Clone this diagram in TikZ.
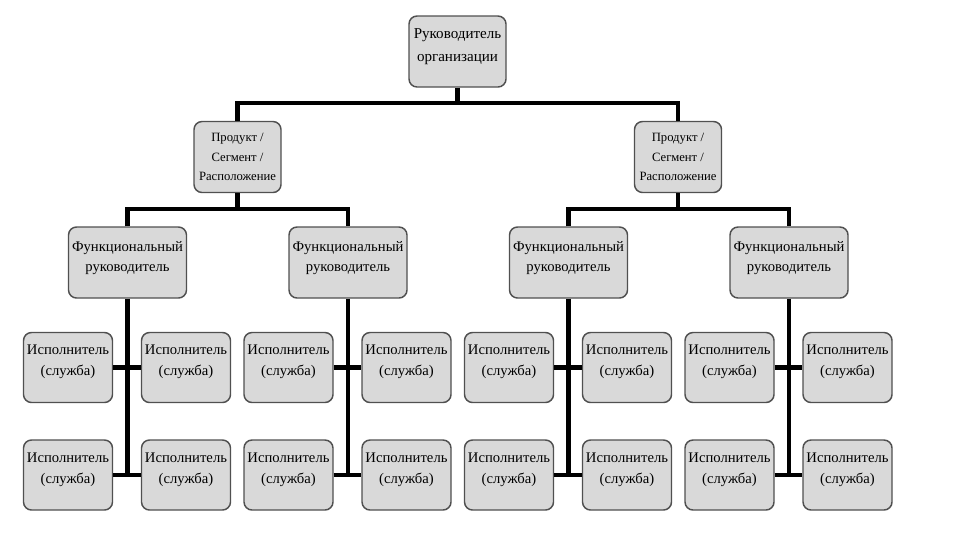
\documentclass[tikz,border=0pt]{standalone}
\usepackage{fontspec}
\setmainfont{Liberation Serif}
\definecolor{boxfill}{HTML}{D9D9D9}
\definecolor{boxline}{HTML}{505050}
\newcommand{\bxt}[4]{\parbox[c][#2][t]{#1}{\vspace*{#3}\centering\strut #4}}
\begin{document}
\begin{tikzpicture}[x=0.75pt,y=-0.75pt,
  box/.style={draw=boxline,line width=1.1pt,fill=boxfill,rounded corners=6pt,inner sep=0pt},
  conn/.style={line width=3.6pt,draw=black}]
\useasboundingbox[fill=white] (0,0) rectangle (960,540);
% top
\node[box] (top) at (457.5,51.5) {\fontsize{11.3}{17}\selectfont\bxt{72.75pt}{53.25pt}{5pt}{Руководитель\\организации}};
% products
\node[box] (p1) at (237.5,157) {\fontsize{9.5}{14.5}\selectfont\bxt{65.25pt}{53.25pt}{5pt}{Продукт /\\Сегмент /\\Расположение}};
\node[box] (p2) at (678,157) {\fontsize{9.5}{14.5}\selectfont\bxt{65.25pt}{53.25pt}{5pt}{Продукт /\\Сегмент /\\Расположение}};
% functional and executors
\foreach \g/\x in {1/127.5,2/348,3/568.5,4/789}{
  \node[box] (f\g) at (\x,262.5) {\fontsize{11}{15}\selectfont\bxt{88.5pt}{53.25pt}{7.5pt}{Функциональный\\руководитель}};
  \node[box] (e\g a) at (\x-59.5,367.5) {\fontsize{11}{15.5}\selectfont\bxt{66.75pt}{52.5pt}{6pt}{Исполнитель\\(служба)}};
  \node[box] (e\g b) at (\x+58.5,367.5) {\fontsize{11}{15.5}\selectfont\bxt{66.75pt}{52.5pt}{6pt}{Исполнитель\\(служба)}};
  \node[box] (e\g c) at (\x-59.5,475) {\fontsize{11}{15.5}\selectfont\bxt{66.75pt}{52.5pt}{6pt}{Исполнитель\\(служба)}};
  \node[box] (e\g d) at (\x+58.5,475) {\fontsize{11}{15.5}\selectfont\bxt{66.75pt}{52.5pt}{6pt}{Исполнитель\\(служба)}};
  \draw[conn] (f\g.south) -- (f\g.south |- e\g c.east);
  \draw[conn] (e\g a.east) -- (e\g b.west);
  \draw[conn] (e\g c.east) -- (e\g d.west);
}
% connectors
\coordinate (b0) at (457.5,103);
\draw[conn] (top.south) -- (b0);
\draw[conn] (p1.north) |- (b0) -| (p2.north);
\coordinate (b1) at (237.5,209);
\draw[conn] (p1.south) -- (b1);
\draw[conn] (f1.north) |- (b1) -| (f2.north);
\coordinate (b2) at (678,209);
\draw[conn] (p2.south) -- (b2);
\draw[conn] (f3.north) |- (b2) -| (f4.north);
\end{tikzpicture}
\end{document}
